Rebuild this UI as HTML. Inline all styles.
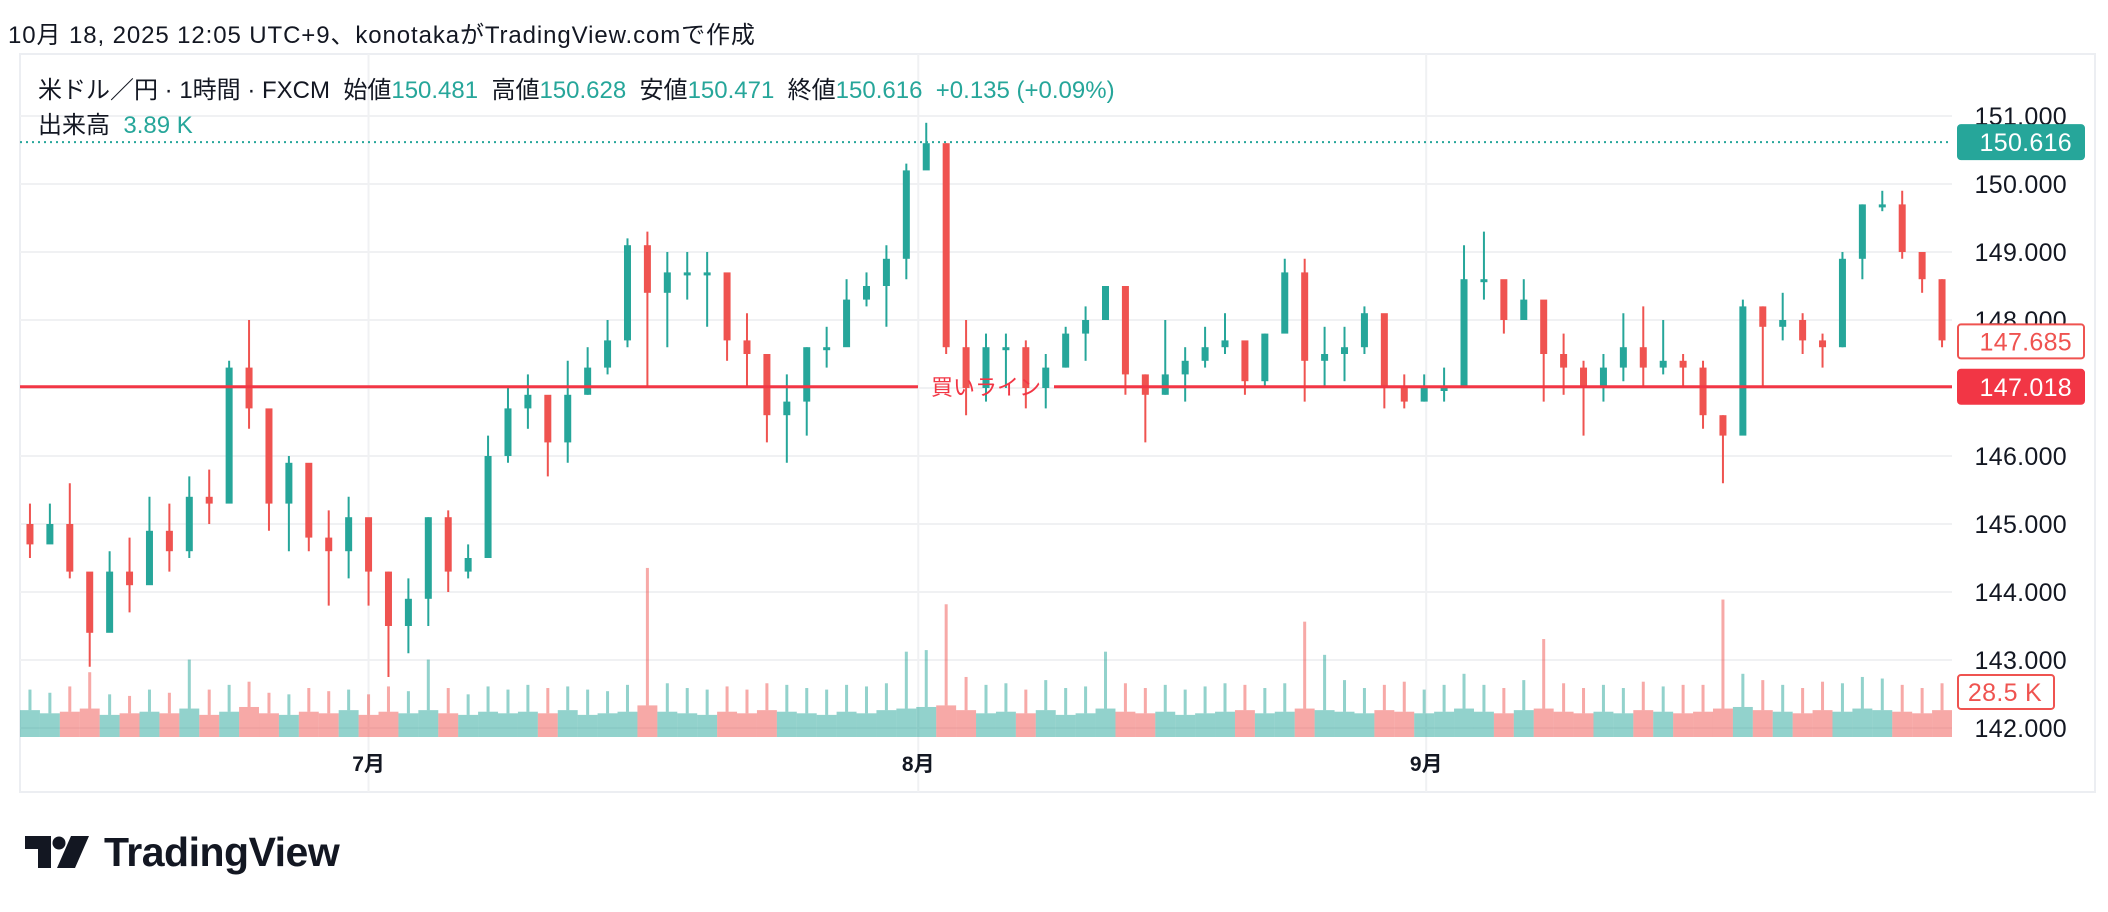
<!DOCTYPE html>
<html><head><meta charset="utf-8">
<style>
body{margin:0;width:2108px;height:912px;background:#fff;overflow:hidden;font-family:"Liberation Sans","Noto Sans CJK JP",sans-serif;color:#131722}
#wrap{position:relative;width:2108px;height:912px}
.t{position:absolute;white-space:nowrap}
</style></head><body>
<div id="wrap">
<div class="t" style="left:8px;top:15px;font-size:24px;letter-spacing:0.9px">10月 18, 2025 12:05 UTC+9、konotakaがTradingView.comで作成</div>
<svg id="chart" width="2108" height="912" style="position:absolute;left:0;top:0"></svg>
<div class="t" style="left:38px;top:70px;font-size:24px;letter-spacing:0px">米ドル／円 · 1時間 · FXCM&nbsp; 始値<span style="color:#26a69a">150.481</span>&nbsp; 高値<span style="color:#26a69a">150.628</span>&nbsp; 安値<span style="color:#26a69a">150.471</span>&nbsp; 終値<span style="color:#26a69a">150.616</span>&nbsp; <span style="color:#26a69a">+0.135 (+0.09%)</span></div>
<div class="t" style="left:38px;top:105px;font-size:24px;letter-spacing:0px">出来高&nbsp; <span style="color:#26a69a">3.89 K</span></div>
<div style="position:absolute;left:24px;top:831px;height:42px;display:flex;align-items:center">
<svg width="68" height="32" viewBox="0 0 66 32"><path d="M0 0h26v32H13V13H0z" fill="#131722"/><circle cx="34" cy="7" r="6.5" fill="#131722"/><path d="M46 0h18L50 32H32z" fill="#131722"/></svg>
<span style="font-size:41px;font-weight:bold;margin-left:12px;letter-spacing:-0.5px">TradingView</span>
</div>
</div>
<script>
const closes=[144.7,145.0,144.3,143.4,144.3,144.1,144.9,144.6,145.4,145.3,147.3,146.7,145.3,145.9,144.8,144.6,145.1,144.3,143.5,143.9,145.1,144.3,144.5,146.0,146.7,
146.9,146.2,146.9,147.3,147.7,149.1,148.4,148.7,148.7,148.7,147.7,147.5,146.6,146.8,147.6,147.6,148.3,148.5,148.9,150.2,150.6,147.6,147.0,147.6,
147.6,147.0,147.3,147.8,148.0,148.5,147.2,146.9,147.2,147.4,147.6,147.7,147.1,147.8,148.7,147.4,147.5,147.6,148.1,147.0,146.8,147.0,147.0,148.6,
148.6,148.0,148.3,147.5,147.3,147.0,147.3,147.6,147.3,147.4,147.3,146.6,146.3,148.2,147.9,148.0,147.7,147.6,148.9,149.7,149.7,149.0,148.6,147.7];
const highs=[145.3,145.3,145.6,144.2,144.6,144.8,145.4,145.3,145.7,145.8,147.4,148.0,146.1,146.0,145.8,145.2,145.4,145.0,144.3,144.2,145.1,145.2,144.7,146.3,147.0,
147.2,146.5,147.4,147.6,148.0,149.2,149.3,149.0,149.0,149.0,148.3,148.1,147.3,147.2,147.6,147.9,148.6,148.7,149.1,150.3,150.9,150.6,148.0,147.8,
147.8,147.7,147.5,147.9,148.2,148.5,148.1,147.2,148.0,147.6,147.9,148.1,147.6,147.8,148.9,148.9,147.9,147.9,148.2,147.5,147.2,147.2,147.3,149.1,
149.3,148.5,148.6,148.2,147.8,147.4,147.5,148.1,148.2,148.0,147.5,147.4,146.6,148.3,148.2,148.4,148.1,147.8,149.0,149.7,149.9,149.9,148.9,148.6];
const lows=[144.5,144.8,144.2,142.9,143.5,143.7,144.3,144.3,144.5,145.0,145.5,146.4,144.9,144.6,144.6,143.8,144.2,143.8,142.75,143.1,143.5,144.0,144.2,144.6,145.9,
146.4,145.7,145.9,146.9,147.2,147.6,147.0,147.6,148.3,147.9,147.4,147.0,146.2,145.9,146.3,147.3,147.8,148.2,147.9,148.6,150.4,147.5,146.6,146.8,
147.0,146.7,146.7,147.3,147.4,148.0,146.9,146.2,146.9,146.8,147.3,147.5,146.9,147.0,147.9,146.8,147.0,147.1,147.5,146.7,146.7,146.8,146.8,147.0,
148.3,147.8,148.0,146.8,146.9,146.3,146.8,147.1,147.0,147.2,147.0,146.4,145.6,146.6,147.0,147.7,147.5,147.3,147.6,148.6,149.6,148.9,148.4,147.6];
const volAvg=[17,15,16,18,14,15,16,15,18,14,16,19,15,14,16,15,17,14,16,15,17,15,14,16,15,
16,15,17,14,15,16,20,16,15,14,16,15,17,16,15,14,16,15,17,18,19,20,17,15,
16,15,17,14,15,18,16,15,16,14,15,16,17,15,16,18,17,16,15,17,16,15,16,18,
16,15,17,18,16,15,16,15,17,16,15,16,18,19,17,16,15,17,16,18,17,16,15,17];
const volPeak=[30,28,32,41,27,26,30,28,49,30,33,35,28,27,31,29,30,27,32,29,49,31,27,32,30,
33,31,32,30,29,33,107,34,31,30,32,30,34,33,31,30,33,32,34,54,55,84,38,33,
34,30,36,31,32,54,34,31,33,30,32,34,33,31,34,73,52,36,31,33,35,30,33,40,
33,31,36,62,34,31,33,31,35,32,33,33,87,40,36,33,31,35,34,38,37,33,31,34];
const yTicks=[151,150,149,148,147,146,145,144,143,142];
const monthLabels=["7月","8月","9月"];
const monthIndex=[17.5,45.1,70.6];
const lastPrice=150.616, prevClose=147.685, buyLine=147.018, lastVol=28.5;

const NS="http://www.w3.org/2000/svg";
const svg=document.getElementById('chart');
const L=20,R=1952,T=54,B=792;
const y=p=>116+(151-p)*68;
const segW=(R-L)/closes.length;
const x=i=>L+i*segW;
const vBase=737, vy=v=>vBase-v*1.58;
function mk(tag,attrs){const e=document.createElementNS(NS,tag);for(const k in attrs)e.setAttribute(k,attrs[k]);svg.appendChild(e);return e;}

let e=mk('rect',{x:L,y:T,width:2095-L,height:B-T,fill:'none',stroke:'#eceef2','stroke-width':2});


yTicks.forEach(t=>{
  const g=mk('line',{x1:L,x2:R,y1:y(t),y2:y(t),stroke:'#f0f1f3','stroke-width':2});
  
  
  const tx=mk('text',{x:2067,y:y(t)+9,'text-anchor':'end','font-size':25,'letter-spacing':0.3,fill:'#131722'});
  tx.textContent=t.toFixed(3);
  
  
});
monthLabels.forEach((m,i)=>{
  const xx=x(monthIndex[i]);
  const g=mk('line',{x1:xx,x2:xx,y1:T,y2:B,stroke:'#f0f1f3','stroke-width':2});
  
  
  const tx=mk('text',{x:xx,y:771,'text-anchor':'middle','font-size':21,'font-weight':'bold',fill:'#131722'});
  tx.textContent=m;
  
  
});
volAvg.forEach((v,i)=>{
  const up=i===0?true:closes[i]>=closes[i-1];
  const col=up?'rgba(38,166,154,0.5)':'rgba(239,83,80,0.5)';
  const r=mk('rect',{x:x(i),y:vy(v),width:segW,height:vBase-vy(v),fill:col});
  
  
  const p=mk('rect',{x:x(i)+segW/2-1.5,y:vy(volPeak[i]),width:3,height:vy(v)-vy(volPeak[i]),fill:col});
  
  
});
closes.forEach((c,i)=>{
  const o=i===0?145.0:closes[i-1];
  const up=c>=o, col=up?'#26a69a':'#ef5350';
  const cx=x(i)+segW/2;
  const w=mk('line',{x1:cx,x2:cx,y1:y(highs[i]),y2:y(lows[i]),stroke:col,'stroke-width':2});
  
  
  const top=y(Math.max(o,c)),h=Math.max(3,Math.abs(y(o)-y(c)));
  const b=mk('rect',{x:cx-3.5,y:top,width:7,height:h,fill:col});
  
  
});
e=mk('line',{x1:L,x2:R,y1:y(lastPrice),y2:y(lastPrice),stroke:'#26a69a','stroke-width':2,'stroke-dasharray':'2 4'});


e=mk('line',{x1:L,x2:918,y1:y(buyLine),y2:y(buyLine),stroke:'#f23645','stroke-width':3});


e=mk('line',{x1:1054,x2:R,y1:y(buyLine),y2:y(buyLine),stroke:'#f23645','stroke-width':3});


e=mk('text',{x:986,y:y(buyLine)+8,'text-anchor':'middle','font-size':22,fill:'#f23645'});
e.textContent='買いライン';


function badge(name,val,yy,fill,stroke,txt,w){
  const r=mk('rect',{x:1958,y:yy-17,width:w,height:34,rx:3,fill:fill,stroke:stroke,'stroke-width':2});
  
  
  const t=mk('text',{x:1958+w-12,y:yy+9,'text-anchor':'end','font-size':25,'letter-spacing':0.3,fill:txt});
  t.textContent=val;
  
  
}
badge('last-price-badge',lastPrice.toFixed(3),y(lastPrice),'#26a69a','#26a69a','#fff',126);
badge('prev-price-badge',prevClose.toFixed(3),y(prevClose),'#fff','#ef5350','#ef5350',126);
badge('buy-line-badge',buyLine.toFixed(3),y(buyLine),'#f23645','#f23645','#fff',126);
badge('volume-badge',lastVol.toFixed(1)+' K',vy(lastVol),'#fff','#ef5350','#ef5350',96);
</script>
</body></html>
